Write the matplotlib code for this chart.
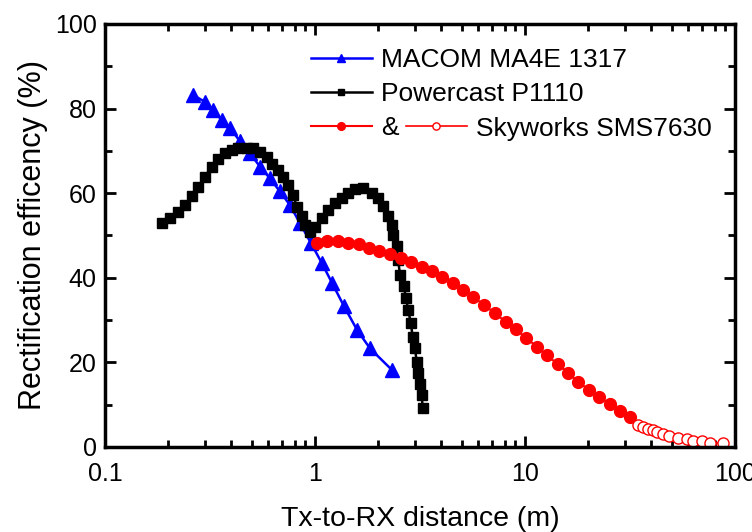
import matplotlib
matplotlib.use("Agg")
import matplotlib.pyplot as plt
from matplotlib.ticker import FixedLocator, NullFormatter, LogLocator

plt.rcParams['font.family'] = ['Liberation Sans', 'DejaVu Sans']

# MACOM MA4E 1317 (blue triangles)
macom_x = [0.263, 0.299, 0.328, 0.359, 0.394, 0.439, 0.490, 0.547, 0.610, 0.681,
           0.760, 0.848, 0.957, 1.080, 1.205, 1.374, 1.585, 1.828, 2.326]
macom_y = [83.2, 81.6, 79.6, 77.3, 75.4, 72.3, 69.4, 66.3, 63.5, 60.4,
           57.2, 52.9, 48.2, 43.4, 38.8, 33.3, 27.7, 23.3, 18.2]

# Powercast P1110 (black squares)
power_x = [0.186, 0.204, 0.223, 0.240, 0.259, 0.278, 0.299, 0.322, 0.346, 0.373,
           0.401, 0.431, 0.473, 0.508, 0.547, 0.589, 0.622, 0.669, 0.706, 0.746,
           0.788, 0.818, 0.865, 0.897, 0.947, 1.000, 1.076, 1.157, 1.245, 1.340,
           1.442, 1.550, 1.698, 1.862, 2.000, 2.114, 2.234, 2.318, 2.36, 2.45,
           2.49, 2.54, 2.65, 2.71, 2.78, 2.86, 2.92, 2.99, 3.05, 3.10,
           3.16, 3.22, 3.26]
power_y = [52.9, 54.1, 55.6, 57.2, 59.3, 61.5, 63.9, 66.2, 68.2, 69.4,
           70.2, 70.7, 70.8, 70.6, 69.8, 68.6, 67.0, 65.4, 63.9, 61.9,
           59.6, 56.8, 54.5, 52.5, 50.9, 52.1, 54.1, 56.1, 57.7, 58.9,
           60.1, 60.9, 61.3, 60.1, 58.9, 56.9, 54.5, 52.5, 50.1, 47.4,
           44.1, 40.7, 38.0, 35.2, 32.4, 29.2, 26.0, 23.4, 20.2, 17.5,
           14.9, 12.2, 9.2]

# Skyworks SMS7630, filled circles
sky_x = [1.02, 1.145, 1.28, 1.44, 1.62, 1.81, 2.02, 2.28, 2.56, 2.86,
         3.22, 3.59, 4.04, 4.53, 5.09, 5.68, 6.38, 7.2, 8.09, 9.03,
         10.1, 11.4, 12.7, 14.3, 16.0, 17.9, 20.2, 22.6, 25.4, 28.3, 31.6]
sky_y = [48.3, 48.7, 48.7, 48.3, 47.9, 47.1, 46.4, 45.6, 44.6, 43.8,
         42.6, 41.7, 40.3, 38.8, 37.1, 35.4, 33.6, 31.6, 29.6, 27.8,
         25.8, 23.7, 21.7, 19.6, 17.6, 15.4, 13.5, 11.7, 10.2, 8.6, 7.2]

# Skyworks SMS7630, open circles
sky_open_x = [34.7, 36.6, 38.6, 40.5, 42.7, 45.6, 48.7, 53.7, 59.3, 63.3, 69.3, 76.0, 87.3]
sky_open_y = [5.2, 4.7, 4.3, 3.9, 3.5, 3.1, 2.7, 2.2, 1.8, 1.5, 1.3, 1.0, 0.9]

fig = plt.figure(figsize=(7.52, 5.32), dpi=100)
ax = fig.add_axes([0.1396, 0.1598, 0.8378, 0.7951])

l1, = ax.plot(macom_x, macom_y, color='blue', marker='^', markersize=9.5, lw=1.8,
              label='MACOM MA4E 1317')
l2, = ax.plot(power_x, power_y, color='black', marker='s', markersize=7.5, lw=1.8,
              label='Powercast P1110')
l3, = ax.plot(sky_x, sky_y, color='red', marker='o', markersize=8.5, lw=1.5,
              label='&')
l4, = ax.plot(sky_open_x, sky_open_y, color='red', marker='o', markersize=8,
              markerfacecolor='white', markeredgewidth=1, lw=1.2,
              label='Skyworks SMS7630')

ax.set_xscale('log')
ax.set_xlim(0.1, 100)
ax.set_ylim(0, 100)
ax.set_xticks([0.1, 1, 10, 100])
ax.set_xticklabels(['0.1', '1', '10', '100'])
ax.xaxis.set_minor_locator(LogLocator(base=10, subs=range(2, 10)))
ax.xaxis.set_minor_formatter(NullFormatter())
ax.set_yticks([0, 20, 40, 60, 80, 100])
ax.yaxis.set_minor_locator(FixedLocator([10, 30, 50, 70, 90]))

ax.tick_params(which='both', direction='in', top=True, right=True, width=2,
               labelsize=18)
ax.tick_params(axis='x', which='major', pad=11)
ax.tick_params(axis='y', which='major', pad=6)
ax.tick_params(which='major', length=8)
ax.tick_params(which='minor', length=5)
for s in ax.spines.values():
    s.set_linewidth(2.5)

ax.set_xlabel('Tx-to-RX distance (m)', fontsize=20.5, labelpad=14)
ax.set_ylabel('Rectification efficency (%)', fontsize=22, labelpad=5)

leg_kw = dict(loc='upper left', frameon=False, fontsize=19, handlelength=2.3,
              handletextpad=0.34, borderpad=0, borderaxespad=0, numpoints=1,
              markerscale=0.65)
leg1 = ax.legend(handles=[l1, l2, l3], bbox_to_anchor=(0.327, 0.943),
                 labelspacing=0.385, **leg_kw)
ax.add_artist(leg1)
ax.legend(handles=[l4], bbox_to_anchor=(0.478, 0.781), **leg_kw)

fig.savefig('out.png', dpi=100)
